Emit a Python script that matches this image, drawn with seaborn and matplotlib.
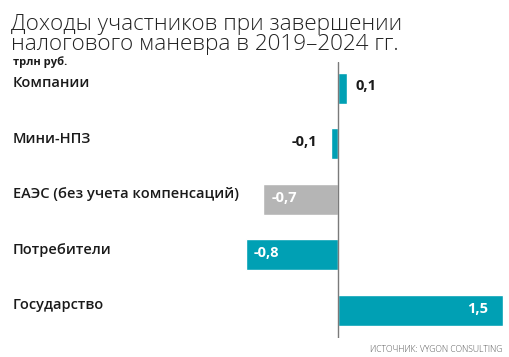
import matplotlib
matplotlib.use('Agg')
import matplotlib.pyplot as plt
import matplotlib.transforms as mtransforms
import seaborn as sns
import pandas as pd

# data (trillion rubles)
categories = ['Компании', 'Мини-НПЗ', 'ЕАЭС (без учета компенсаций)', 'Потребители', 'Государство']
values = [0.08, -0.065, -0.68, -0.84, 1.5]
value_labels = ['0,1', '-0,1', '-0,7', '-0,8', '1,5']
bar_colors = ['#00a0b4', '#00a0b4', '#b5b5b5', '#00a0b4', '#00a0b4']

sns.set_style('white')
plt.rcParams['font.family'] = ['Open Sans', 'DejaVu Sans']

df = pd.DataFrame({'category': categories, 'value': values})

W, H = 510, 357
fig = plt.figure(figsize=(W / 100, H / 100), dpi=100)
ax = fig.add_axes([0, (H - 338) / H, 1, (338 - 62) / H])

sns.barplot(data=df, x='value', y='category', hue='category', palette=bar_colors,
            orient='h', width=0.56, saturation=1, legend=False, ax=ax)

px = 110.0  # pixels per unit
ax.set_xlim(-338 / px, (W - 338) / px)
ax.set_ylim(4.5, -0.47)
ax.axis('off')
ax.axvline(0, color='#7a7a7a', lw=1)

trans = mtransforms.blended_transform_factory(ax.transAxes, ax.transData)
for i, cat in enumerate(categories):
    ax.text(13 / W, i - 0.09, cat, transform=trans, va='center', ha='left',
            fontsize=10.5, fontweight='semibold', color='#1a1a1a')

# value labels: outside for tiny bars, inside (white) for large ones
for i, (v, lab) in enumerate(zip(values, value_labels)):
    if abs(v) < 0.2:
        if v > 0:
            ax.text(v + 9 / px, i - 0.03, lab, ha='left', va='center',
                    fontsize=10.5, fontweight='bold', color='#1a1a1a')
        else:
            ax.text(v - 14 / px, i - 0.03, lab, ha='right', va='center',
                    fontsize=10.5, fontweight='bold', color='#1a1a1a')
    else:
        if v > 0:
            ax.text(v - 15 / px, i - 0.03, lab, ha='right', va='center',
                    fontsize=10.5, fontweight='bold', color='white')
        else:
            ax.text(v + 8 / px, i - 0.03, lab, ha='left', va='center',
                    fontsize=10.5, fontweight='bold', color='white')

fig.text(11 / W, 1 - 50 / H, 'Доходы участников при завершении\nналогового маневра в 2019–2024 гг.',
         ha='left', va='baseline', fontsize=16.2, fontweight='light', color='#222222',
         linespacing=0.93)
fig.text(13 / W, 1 - 65 / H, 'трлн руб.', ha='left', va='baseline',
         fontsize=8, fontweight='bold', color='#1a1a1a')
fig.text(502 / W, 1 - 352 / H, 'ИСТОЧНИК: VYGON CONSULTING', ha='right', va='baseline',
         fontsize=6.2, fontweight='light', color='#555555')

fig.savefig('out.png', dpi=100)
